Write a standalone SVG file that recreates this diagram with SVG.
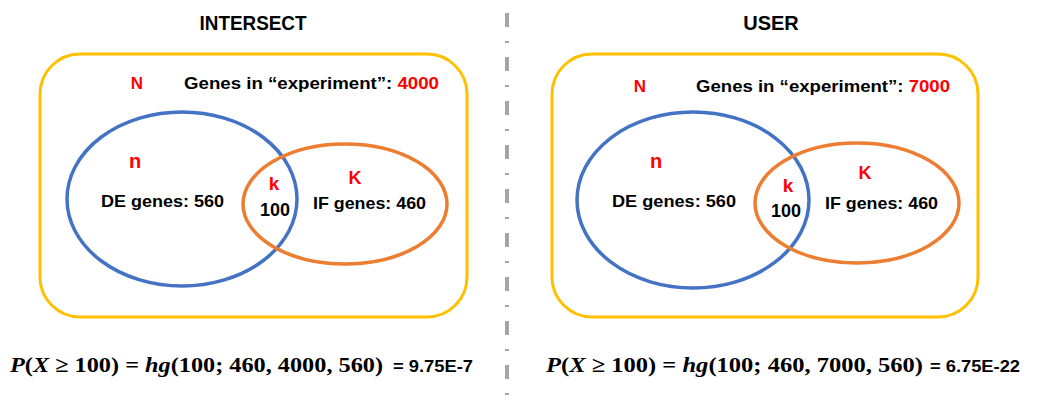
<svg xmlns="http://www.w3.org/2000/svg" width="1040" height="402" viewBox="0 0 1040 402">
<style>
.box{fill:none;stroke:#FFC000;stroke-width:3}
.de{fill:none;stroke:#4472C4;stroke-width:3.5}
.ifg{fill:none;stroke:#ED7D31;stroke-width:3.5}
.t{font-family:"Liberation Sans",Arial,sans-serif;font-weight:bold;fill:#000}
.r{fill:#FF0000}
.m{font-family:"Liberation Serif","Times New Roman",serif;font-weight:bold;font-size:22px;fill:#000}
.i{font-style:italic}
</style>
<rect width="1040" height="402" fill="#fff"/>
<g id="divider">
<line x1="507" y1="13" x2="507" y2="398" stroke="#A6A6A6" stroke-width="4" stroke-dasharray="14 14 2 14"/>
</g>
<g id="intersect">
<text class="t" x="253" y="30" font-size="20" text-anchor="middle" textLength="107" lengthAdjust="spacingAndGlyphs">INTERSECT</text>
<rect class="box" x="40" y="54" width="427" height="263" rx="40"/>
<text class="t r" x="137" y="89" font-size="17" text-anchor="middle">N</text>
<text class="t" x="184" y="89" font-size="16" textLength="255" lengthAdjust="spacingAndGlyphs">Genes in “experiment”: <tspan class="r">4000</tspan></text>
<ellipse class="de" cx="182" cy="199" rx="115" ry="87"/>
<ellipse class="ifg" cx="345" cy="204" rx="102" ry="60"/>
<text class="t r" x="135" y="168" font-size="20" text-anchor="middle">n</text>
<text class="t" x="101" y="207" font-size="17" textLength="123" lengthAdjust="spacingAndGlyphs">DE genes: 560</text>
<text class="t r" x="274" y="190" font-size="19" text-anchor="middle">k</text>
<text class="t" x="275" y="216" font-size="18" text-anchor="middle">100</text>
<text class="t r" x="355" y="184" font-size="18" text-anchor="middle">K</text>
<text class="t" x="313" y="209" font-size="17" textLength="113" lengthAdjust="spacingAndGlyphs">IF genes: 460</text>
<text class="m" x="10" y="372" textLength="373" lengthAdjust="spacingAndGlyphs"><tspan class="i">P</tspan>(<tspan class="i">X</tspan> ≥ 100) = <tspan class="i">hg</tspan>(100; 460, 4000, 560)</text>
<text class="t" x="393" y="372" font-size="16" textLength="80" lengthAdjust="spacingAndGlyphs">= 9.75E-7</text>
</g>
<g id="user">
<text class="t" x="771" y="30" font-size="20" text-anchor="middle">USER</text>
<rect class="box" x="552" y="54" width="426" height="263" rx="40"/>
<text class="t r" x="640" y="92" font-size="17" text-anchor="middle">N</text>
<text class="t" x="696" y="92" font-size="16" textLength="254" lengthAdjust="spacingAndGlyphs">Genes in “experiment”: <tspan class="r">7000</tspan></text>
<ellipse class="de" cx="693" cy="200" rx="116" ry="88"/>
<ellipse class="ifg" cx="857" cy="203" rx="102" ry="60"/>
<text class="t r" x="656" y="168" font-size="20" text-anchor="middle">n</text>
<text class="t" x="612" y="207" font-size="17" textLength="124" lengthAdjust="spacingAndGlyphs">DE genes: 560</text>
<text class="t r" x="788" y="192" font-size="19" text-anchor="middle">k</text>
<text class="t" x="786" y="217" font-size="18" text-anchor="middle">100</text>
<text class="t r" x="865" y="179" font-size="18" text-anchor="middle">K</text>
<text class="t" x="825" y="209" font-size="17" textLength="113" lengthAdjust="spacingAndGlyphs">IF genes: 460</text>
<text class="m" x="546" y="372" textLength="377" lengthAdjust="spacingAndGlyphs"><tspan class="i">P</tspan>(<tspan class="i">X</tspan> ≥ 100) = <tspan class="i">hg</tspan>(100; 460, 7000, 560)</text>
<text class="t" x="930" y="372" font-size="16" textLength="90" lengthAdjust="spacingAndGlyphs">= 6.75E-22</text>
</g>
</svg>
